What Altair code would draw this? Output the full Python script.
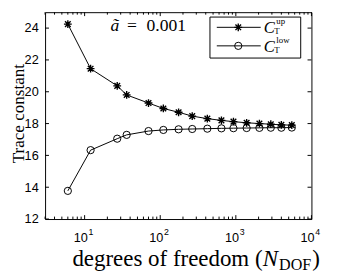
import altair as alt
import pandas as pd

# ---- data ----
dof = [6, 12, 27, 36, 70, 110, 175, 265, 420, 645, 930, 1390, 2050, 2900, 4000, 5500]
c_up = [24.25, 21.45, 20.37, 19.80, 19.29, 18.95, 18.71, 18.47, 18.31, 18.20,
        18.12, 18.05, 18.00, 17.96, 17.92, 17.90]
c_low = [13.77, 16.33, 17.05, 17.29, 17.53, 17.60, 17.64, 17.66, 17.68, 17.70,
         17.71, 17.72, 17.73, 17.74, 17.74, 17.75]
y_ticks = [12, 14, 16, 18, 20, 22, 24]
x_major = [10, 100, 1000, 10000]
x_exp = ["1", "2", "3", "4"]
x_minor = [3, 4, 5, 6, 7, 8, 9,
           20, 30, 40, 50, 60, 70, 80, 90,
           200, 300, 400, 500, 600, 700, 800, 900,
           2000, 3000, 4000, 5000, 6000, 7000, 8000, 9000]

W, H = 273, 212
SERIF = "Liberation Serif"
SANS = "Liberation Sans"
STAR = "M0,-1L0,1M-1,0L1,0M-0.72,-0.72L0.72,0.72M-0.72,0.72L0.72,-0.72"

xs = alt.Scale(type="log", domain=[3, 10000], nice=False)
ys = alt.Scale(domain=[12, 25], nice=False, zero=False)

df = pd.DataFrame({"dof": dof, "up": c_up, "low": c_low})
one = pd.DataFrame({"a": [0]})

X = alt.X("dof:Q", scale=xs, axis=None)
YAX = alt.Axis(values=y_ticks, labelFont=SANS, labelFontSize=13, labelColor="black",
               ticks=False, tickSize=0, domain=False, grid=False, labelPadding=7, title=None)

up_line = alt.Chart(df).mark_line(color="black", strokeWidth=1).encode(
    x=X, y=alt.Y("up:Q", scale=ys, axis=YAX))
low_line = alt.Chart(df).mark_line(color="black", strokeWidth=1).encode(
    x=X, y=alt.Y("low:Q", scale=ys, axis=YAX))
up_pts = alt.Chart(df).mark_point(shape=STAR, filled=False, color="black",
                                  strokeWidth=1.4, size=64, opacity=1).encode(
    x=X, y=alt.Y("up:Q", scale=ys, axis=YAX))
low_pts = alt.Chart(df).mark_point(shape="circle", filled=False, color="black",
                                   strokeWidth=1, size=55, opacity=1).encode(
    x=X, y=alt.Y("low:Q", scale=ys, axis=YAX))

# ---- inward ticks (MATLAB style) ----
ydf = pd.DataFrame({"v": y_ticks})
YT = alt.Y("v:Q", scale=ys, axis=YAX)
yt_l = alt.Chart(ydf).mark_rule(color="black", strokeWidth=1).encode(
    y=YT, x=alt.value(0), x2=alt.value(4))
yt_r = alt.Chart(ydf).mark_rule(color="black", strokeWidth=1).encode(
    y=YT, x=alt.value(W - 4), x2=alt.value(W))
XT = alt.X("v:Q", scale=xs, axis=None)
xmaj = pd.DataFrame({"v": x_major, "e": x_exp})
xmin = pd.DataFrame({"v": x_minor})
xt_b = alt.Chart(xmaj).mark_rule(color="black", strokeWidth=1).encode(
    x=XT, y=alt.value(H), y2=alt.value(H - 4))
xt_t = alt.Chart(xmaj).mark_rule(color="black", strokeWidth=1).encode(
    x=XT, y=alt.value(0), y2=alt.value(4))
xm_b = alt.Chart(xmin).mark_rule(color="black", strokeWidth=1).encode(
    x=XT, y=alt.value(H), y2=alt.value(H - 2.5))
xm_t = alt.Chart(xmin).mark_rule(color="black", strokeWidth=1).encode(
    x=XT, y=alt.value(0), y2=alt.value(2.5))

# ---- x tick labels 10^n ----
xl_base = alt.Chart(xmaj).mark_text(font=SANS, fontSize=13, align="center",
                                    baseline="alphabetic", dx=-4, color="black").encode(
    x=XT, y=alt.value(H + 24), text=alt.value("10"))
xl_exp = alt.Chart(xmaj).mark_text(font=SANS, fontSize=9, align="left",
                                   baseline="alphabetic", dx=4, color="black").encode(
    x=XT, y=alt.value(H + 16), text="e:N")


def txt(s, x, y, size, style="normal", align="left", baseline="alphabetic", angle=0):
    mk = dict(font=SERIF, fontSize=size, fontStyle=style, align=align,
              baseline=baseline, color="black")
    if angle:
        mk["angle"] = angle
    return alt.Chart(one).mark_text(**mk).encode(
        x=alt.value(x), y=alt.value(y), text=alt.value(s))


# Times-like advance widths (em) to place the pieces of the x title
ADV = {" ": .25, "(": .333, ")": .333, "d": .5, "e": .444, "g": .5, "r": .333,
       "s": .389, "o": .5, "f": .333, "m": .778, "N": .667, "D": .722, "O": .722, "F": .556}


def width(s, size):
    return sum(ADV.get(c, .5) for c in s) * size


fs = 23.5
x0 = 28
yb = H + 48
p1 = "degrees of freedom ("
xN = x0 + width(p1, fs)
xD = xN + width("N", fs) + 1
fsub = 16.5
xP = xD + width("DOF", fsub) + 1
xtitle = [
    txt(p1, x0, yb, fs),
    txt("N", xN, yb, fs, style="italic"),
    txt("DOF", xD, yb + 4, fsub),
    txt(")", xP, yb, fs),
]

ytitle = txt("Trace constant", -22, 104, 17.5, align="center", baseline="alphabetic", angle=270)

# ---- annotation ----
annot = [
    txt("ã", 67, 19, 18, style="italic"),
    txt("=", 84, 19, 18),
    txt("0.001", 104, 19, 18),
]

# ---- legend ----
LX0, LX1, LY0, LY1 = 169, 262, 5, 47
r1, r2 = 15.5, 34.5
leg_box = alt.Chart(one).mark_rect(fill="white", stroke="black", strokeWidth=1).encode(
    x=alt.value(LX0), x2=alt.value(LX1), y=alt.value(LY0), y2=alt.value(LY1))
leg_l1 = alt.Chart(one).mark_rule(color="black", strokeWidth=1).encode(
    x=alt.value(176), x2=alt.value(221), y=alt.value(r1))
leg_l2 = alt.Chart(one).mark_rule(color="black", strokeWidth=1).encode(
    x=alt.value(176), x2=alt.value(221), y=alt.value(r2))
leg_p1 = alt.Chart(one).mark_point(shape=STAR, filled=False, color="black",
                                   strokeWidth=1.4, size=64, opacity=1).encode(
    x=alt.value(198), y=alt.value(r1))
leg_p2 = alt.Chart(one).mark_point(shape="circle", filled=False, color="black",
                                   strokeWidth=1, size=55, opacity=1).encode(
    x=alt.value(198), y=alt.value(r2))
leg_txt = [
    txt("C", 224, r1 + 6, 17, style="italic"),
    txt("T", 235, r1 + 7, 9),
    txt("up", 237, r1 - 3, 9),
    txt("C", 224, r2 + 6, 17, style="italic"),
    txt("T", 235, r2 + 7, 9),
    txt("low", 237, r2 - 3, 9),
]

layers = [up_line, low_line, up_pts, low_pts,
          yt_l, yt_r, xt_b, xt_t, xm_b, xm_t,
          xl_base, xl_exp, ytitle] + xtitle + annot + \
         [leg_box, leg_l1, leg_l2, leg_p1, leg_p2] + leg_txt

chart = alt.layer(*layers).properties(
    width=W, height=H,
    padding={"left": 38, "top": 1, "right": 18, "bottom": 52},
    autosize="none",
    background="white",
).configure_view(stroke="black", strokeWidth=1)

chart.save("out.html", embed_options={"renderer": "svg", "actions": False})
